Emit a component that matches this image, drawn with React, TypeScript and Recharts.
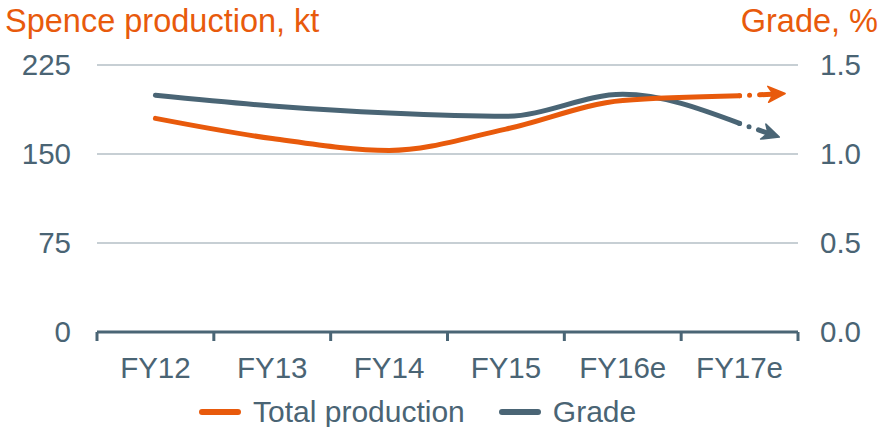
import React from 'react';
import { LineChart, Line, XAxis, YAxis, CartesianGrid } from 'recharts';

const categories = ['FY12', 'FY13', 'FY14', 'FY15', 'FY16e', 'FY17e'];
const production = [180, 163, 153, 171, 195, 199];
const grade = [1.33, 1.27, 1.23, 1.212, 1.335, 1.172];
// forecast arrow extension: [start position, end position], [start value, end value]
const prodArrowX = [5, 5.39];
const prodArrowY = [199, 201];
const gradeArrowX = [5, 5.34];
const gradeArrowY = [1.172, 1.095];
const leftTicks = [0, 75, 150, 225];
const rightTicks = [0, 0.5, 1.0, 1.5];
const seriesNames = ['Total production', 'Grade'];
const leftTitle = 'Spence production, kt';
const rightTitle = 'Grade, %';

const ORANGE = '#E85A0C';
const SLATE = '#4A6575';
const TEXT = '#4A6474';
const GRID = '#8FA0AA';
const FONT = '"Liberation Sans", Arial, sans-serif';
const FS = 29.5;

const mainData = categories.map((c, i) => ({ x: i, prod: production[i], grade: grade[i] }));
const prodExt = prodArrowX.map((x, i) => ({ x, v: prodArrowY[i] }));
const gradeExt = gradeArrowX.map((x, i) => ({ x, v: gradeArrowY[i] }));
const boundaries = categories.map((_, i) => i - 0.5).concat([categories.length - 0.5]);

function makeArrowDot(color: string) {
  let prev: { x: number; y: number } | null = null;
  return (props: any) => {
    const { cx, cy, index } = props;
    if (index === 0) {
      prev = { x: cx, y: cy };
      return <g key={`d${index}`} />;
    }
    const p = prev || { x: cx - 10, y: cy };
    const ang = (Math.atan2(cy - p.y, cx - p.x) * 180) / Math.PI;
    return (
      <g key={`d${index}`} transform={`translate(${cx},${cy}) rotate(${ang})`}>
        <polygon points="0,0 -17,-8 -12,0 -17,8" fill={color} stroke={color} strokeWidth={1.5} strokeLinejoin="round" />
      </g>
    );
  };
}

const prodArrow = makeArrowDot(ORANGE);
const gradeArrow = makeArrowDot(SLATE);

function CategoryTick(props: any) {
  const { x, y, index, width } = props;
  if (index >= categories.length) return <g />;
  const half = width / categories.length / 2;
  return (
    <text x={x + half} y={y + 35} textAnchor="middle" fill={TEXT} fontSize={FS} fontFamily={FONT}>
      {categories[index]}
    </text>
  );
}

export default function App() {
  return (
    <div style={{ position: 'absolute', left: 0, top: 0, width: 883, height: 427, background: '#fff', fontFamily: FONT }}>
      <div style={{ position: 'absolute', left: 5, top: 0, fontSize: 32.5, lineHeight: '42px', color: ORANGE, whiteSpace: 'nowrap' }}>
        {leftTitle}
      </div>
      <div style={{ position: 'absolute', right: 5, top: 0, fontSize: 32.5, lineHeight: '42px', color: ORANGE, whiteSpace: 'nowrap' }}>
        {rightTitle}
      </div>
      <LineChart width={883} height={427} data={mainData} margin={{ top: 65, right: 0, left: 0, bottom: 45 }}>
        <CartesianGrid vertical={false} stroke={GRID} strokeWidth={1.2} yAxisId="left" xAxisId="marks" />
        <XAxis
          xAxisId="marks"
          type="number"
          dataKey="x"
          domain={[-0.5, 5.5]}
          ticks={boundaries}
          interval={0}
          height={50}
          axisLine={{ stroke: SLATE, strokeWidth: 3 }}
          tickLine={{ stroke: SLATE, strokeWidth: 3 }}
          tickSize={9}
          tick={<CategoryTick />}
        />
        <YAxis
          yAxisId="left"
          domain={[0, 225]}
          ticks={leftTicks}
          width={97}
          axisLine={false}
          tickLine={false}
          tickSize={0}
          tickMargin={26}
          tick={{ fill: TEXT, fontSize: FS, fontFamily: FONT }}
        />
        <YAxis
          yAxisId="right"
          orientation="right"
          domain={[0, 1.5]}
          ticks={rightTicks}
          width={85}
          axisLine={false}
          tickLine={false}
          tickSize={0}
          tickMargin={22}
          tickFormatter={(v: number) => v.toFixed(1)}
          tick={{ fill: TEXT, fontSize: FS, fontFamily: FONT, textAnchor: 'start' }}
        />
        <Line
          xAxisId="marks"
          yAxisId="right"
          type="monotone"
          dataKey="grade"
          name={seriesNames[1]}
          stroke={SLATE}
          strokeWidth={5}
          strokeLinecap="round"
          dot={false}
          isAnimationActive={false}
        />
        <Line
          xAxisId="marks"
          yAxisId="left"
          type="monotone"
          dataKey="prod"
          name={seriesNames[0]}
          stroke={ORANGE}
          strokeWidth={5}
          strokeLinecap="round"
          dot={false}
          isAnimationActive={false}
        />
        <Line
          xAxisId="marks"
          yAxisId="left"
          data={prodExt}
          dataKey="v"
          type="linear"
          stroke={ORANGE}
          strokeWidth={5}
          strokeLinecap="round"
          strokeDasharray="0 10 0 10 12 200"
          dot={prodArrow}
          legendType="none"
          isAnimationActive={false}
        />
        <Line
          xAxisId="marks"
          yAxisId="right"
          data={gradeExt}
          dataKey="v"
          type="linear"
          stroke={SLATE}
          strokeWidth={5}
          strokeLinecap="round"
          strokeDasharray="0 10 0 10 12 200"
          dot={gradeArrow}
          legendType="none"
          isAnimationActive={false}
        />
      </LineChart>
      <div style={{ position: 'absolute', left: 199, top: 392, display: 'flex', alignItems: 'center', fontSize: 30, lineHeight: '40px', color: TEXT, whiteSpace: 'nowrap' }}>
        {[ORANGE, SLATE].map((c, i) => (
          <div key={i} style={{ display: 'flex', alignItems: 'center', marginRight: i === 0 ? 34 : 0 }}>
            <span style={{ display: 'inline-block', width: 42, height: 6, borderRadius: 3, background: c, marginRight: 12 }} />
            <span>{seriesNames[i]}</span>
          </div>
        ))}
      </div>
    </div>
  );
}
